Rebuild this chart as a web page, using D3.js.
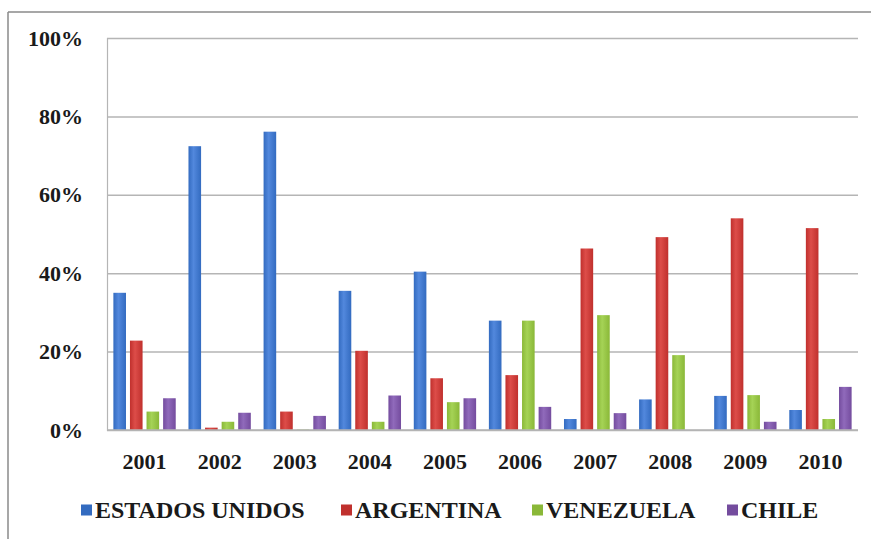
<!DOCTYPE html>
<html>
<head>
<meta charset="utf-8">
<script src="https://cdn.jsdelivr.net/npm/d3@7"></script>
<style>
  html, body { margin: 0; padding: 0; background: #fff; }
  svg { display: block; }
  svg text { font-family: "Times New Roman", "Liberation Serif", Tinos, serif !important; font-weight: bold; fill: #1a1a1a; }
</style>
</head>
<body>
<svg id="chart" width="871" height="539"></svg>
<script>
// Share of exports by destination, 2001-2010
const years = ["2001", "2002", "2003", "2004", "2005", "2006", "2007", "2008", "2009", "2010"];
const seriesNames = ["ESTADOS UNIDOS", "ARGENTINA", "VENEZUELA", "CHILE"];
const estadosUnidos = [35.0, 72.4, 76.1, 35.5, 40.4, 27.9, 2.8, 7.8, 8.7, 5.1];
const argentina     = [22.8, 0.6, 4.7, 20.2, 13.2, 14.0, 46.3, 49.2, 54.0, 51.5];
const venezuela     = [4.7, 2.1, 0.1, 2.1, 7.1, 27.9, 29.3, 19.1, 8.9, 2.8];
const chile         = [8.1, 4.4, 3.6, 8.8, 8.1, 5.9, 4.3, 0.0, 2.1, 11.0];
const yTicks = [0, 20, 40, 60, 80, 100];

const seriesValues = [estadosUnidos, argentina, venezuela, chile];
const colors = ["#336bc0", "#c0302d", "#8ab838", "#744c9e"];
const lightColors = ["#5288dd", "#dd4d49", "#a5d356", "#906abb"];

const svg = d3.select("#chart");
const margin = { left: 107, right: 13, top: 38, bottom: 109 };
const W = 871, H = 539;

// frame lines (top and left only)
svg.append("line").attr("x1", 8).attr("x2", W).attr("y1", 12).attr("y2", 12)
  .attr("stroke", "#8a8a8a").attr("stroke-width", 1.5);
svg.append("line").attr("x1", 8).attr("x2", 8).attr("y1", 12).attr("y2", H)
  .attr("stroke", "#8a8a8a").attr("stroke-width", 1.5);

const x0 = d3.scaleBand().domain(years).range([margin.left, W - margin.right]).paddingInner(0.17).paddingOuter(0.085);
const x1 = d3.scaleBand().domain(d3.range(seriesNames.length)).range([0, x0.bandwidth()]).paddingInner(0.24);
const y = d3.scaleLinear().domain([0, 100]).range([H - margin.bottom, margin.top]);

// gradients for bars
const defs = svg.append("defs");
colors.forEach((c, i) => {
  const g = defs.append("linearGradient").attr("id", "grad" + i)
    .attr("x1", "0%").attr("x2", "100%").attr("y1", "0%").attr("y2", "0%");
  g.append("stop").attr("offset", "0%").attr("stop-color", c);
  g.append("stop").attr("offset", "40%").attr("stop-color", lightColors[i]);
  g.append("stop").attr("offset", "100%").attr("stop-color", c);
});

// gridlines
const yAxis = d3.axisLeft(y).tickValues(yTicks).tickSize(-(W - margin.left - margin.right)).tickFormat(d => d + "%");
const gy = svg.append("g").attr("transform", `translate(${margin.left},0)`).call(yAxis)
  .attr("font-family", null);
gy.select(".domain").attr("stroke", "#b5b5b5").attr("stroke-width", 1.2);
gy.selectAll(".tick line").attr("stroke", "#b5b5b5").attr("stroke-width", 1.5);
gy.selectAll(".tick text").attr("x", -24).attr("font-size", 22).attr("fill", "#1a1a1a");

// bars
const groups = svg.append("g").selectAll("g").data(years).join("g")
  .attr("transform", d => `translate(${x0(d)},0)`);
groups.selectAll("rect")
  .data((yr, yi) => seriesValues.map((vals, si) => ({ si, v: vals[yi] })))
  .join("rect")
  .attr("x", d => x1(d.si))
  .attr("width", x1.bandwidth())
  .attr("y", d => y(d.v))
  .attr("height", d => y(0) - y(d.v))
  .attr("fill", d => `url(#grad${d.si})`);

// baseline
svg.append("line").attr("x1", margin.left).attr("x2", W - margin.right)
  .attr("y1", y(0)).attr("y2", y(0)).attr("stroke", "#b5b5b5").attr("stroke-width", 1.5);

// category axis labels
const xAxis = d3.axisBottom(x0).tickSize(0).tickPadding(0);
const gx = svg.append("g").attr("transform", `translate(0,${y(0)})`).call(xAxis)
  .attr("font-family", null);
gx.select(".domain").remove();
gx.selectAll(".tick text").attr("y", 31).attr("dy", "0.35em").attr("font-size", 22).attr("fill", "#1a1a1a");

// legend
const legendX = [81, 341, 532, 727];
const legend = svg.append("g").selectAll("g").data(seriesNames).join("g")
  .attr("transform", (d, i) => `translate(${legendX[i]},510)`);
legend.append("rect").attr("x", 0).attr("y", -5.5).attr("width", 11).attr("height", 11)
  .attr("fill", (d, i) => colors[i]);
legend.append("text").attr("x", 14).attr("dy", "0.35em").attr("font-size", 24).text(d => d);
</script>
</body>
</html>
